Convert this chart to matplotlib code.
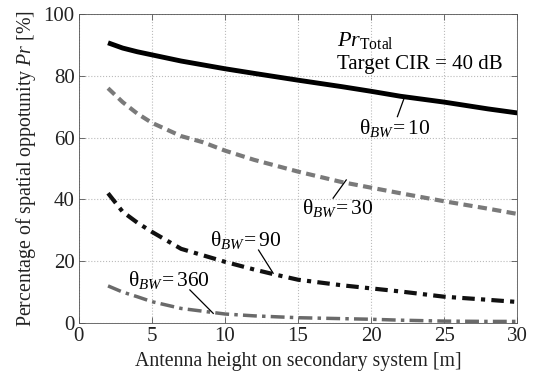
import matplotlib
matplotlib.use("Agg")
import matplotlib.pyplot as plt

plt.rcParams['font.family'] = ['Liberation Serif', 'DejaVu Serif']
plt.rcParams['mathtext.fontset'] = 'custom'
plt.rcParams['mathtext.rm'] = 'Liberation Serif'
plt.rcParams['mathtext.it'] = 'Liberation Serif:italic'

x10 = [2, 3, 4, 5, 7, 10, 12, 15, 18, 20, 22, 25, 28, 30]
y10 = [90.7, 89.0, 87.8, 86.8, 84.8, 82.3, 80.8, 78.6, 76.5, 75.0, 73.4, 71.5, 69.3, 68.0]

x30 = [2, 3, 4, 5, 7, 8.5, 10, 12, 15, 18, 20, 22, 25, 28, 30]
y30 = [76.0, 71.5, 67.8, 64.8, 60.5, 58.5, 55.8, 52.8, 49.0, 45.6, 43.8, 42.0, 39.4, 37.0, 35.3]

x90 = [2, 3, 4, 5, 7, 10, 12, 13.5, 15, 18, 20, 22, 25, 28, 30]
y90 = [42.0, 36.0, 32.5, 29.5, 24.0, 19.8, 17.3, 15.6, 14.0, 12.2, 11.2, 10.2, 8.5, 7.5, 6.8]

x360 = [2, 3, 4, 5, 7, 10, 12, 15, 18, 20, 22, 25, 28, 30]
y360 = [12.0, 10.0, 8.5, 6.9, 4.7, 2.9, 2.3, 1.7, 1.4, 1.2, 0.9, 0.6, 0.5, 0.5]

xticks = [0, 5, 10, 15, 20, 25, 30]
yticks = [0, 20, 40, 60, 80, 100]

fig = plt.figure(figsize=(5.36, 3.91), dpi=100)
ax = fig.add_axes([0.147, 0.174, 0.818, 0.79])

ax.plot(x10, y10, color='black', lw=3.5, solid_capstyle='butt')
ax.plot(x30, y30, color='#7a7a7a', lw=3.0, linestyle=(0, (2.2, 1.3)))
ax.plot(x90, y90, color='#111111', lw=3.0, linestyle=(0, (3, 1.5, 1, 1.5)))
ax.plot(x360, y360, color='#6a6a6a', lw=2.5, linestyle=(0, (4, 1.5, 1, 1.5)))

ax.set_xlim(0, 30)
ax.set_ylim(0, 100)
ax.set_xticks(xticks)
ax.set_yticks(yticks)
ax.tick_params(direction='in', top=True, right=True, labelsize=15, length=4,
               width=0.6, color='#555555', labelcolor='#222222', pad=3)
ax.grid(True, linestyle=':', color='#bbbbbb', lw=0.8)
for s in ax.spines.values():
    s.set_linewidth(0.6)
    s.set_color('#555555')

ax.set_xlabel('Antenna height on secondary system [m]', fontsize=14.3, color='#222222')
ax.set_ylabel('Percentage of spatial oppotunity $\\mathit{Pr}$ [%]', fontsize=14.3, color='#222222')

ax.text(17.7, 91.5, r'$\mathit{Pr}_{\mathrm{Total}}$', fontsize=16, va='center', ha='left')
ax.text(17.7, 83.8, 'Target CIR = 40 dB', fontsize=15, va='center', ha='left')

fs = 15.5
ax.text(21.6, 63, r'$\mathrm{\theta}_{\mathit{BW}}\!=10$', fontsize=fs, ha='center', va='center')
ax.plot([21.8, 22.3], [66.8, 73.3], color='black', lw=0.9)
ax.text(17.7, 37.2, r'$\mathrm{\theta}_{\mathit{BW}}\!=30$', fontsize=fs, ha='center', va='center')
ax.plot([17.4, 18.3], [40.4, 46.3], color='black', lw=0.9)
ax.text(11.4, 26.9, r'$\mathrm{\theta}_{\mathit{BW}}\!=90$', fontsize=fs, ha='center', va='center')
ax.plot([12.3, 13.3], [23.6, 16.1], color='black', lw=0.9)
ax.text(6.2, 13.9, r'$\mathrm{\theta}_{\mathit{BW}}\!=360$', fontsize=fs, ha='center', va='center')
ax.plot([7.6, 9.2], [10.7, 3.1], color='black', lw=0.9)

fig.savefig('out.png', dpi=100)
